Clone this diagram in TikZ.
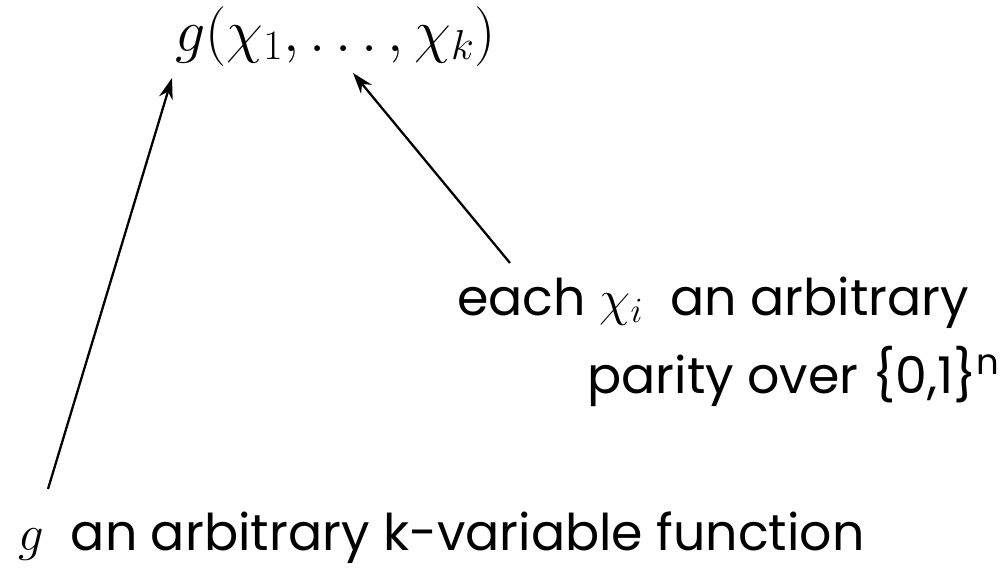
\RequirePackage{fix-cm}
\documentclass[tikz,border=0pt]{standalone}
\usepackage{amsmath, amssymb}
\usepackage{fontspec}
\setmainfont{Poppins}
\usepackage{tikz}
\usetikzlibrary{arrows.meta,positioning,calc}

\begin{document}
\begin{tikzpicture}[
    lbl/.style={inner sep=0pt, font=\fontsize{28.8}{34}\selectfont},
    formula/.style={inner sep=0pt, font=\fontsize{34}{40}\selectfont},
    arrow/.style={-{Stealth[length=12pt,width=8pt]}, line width=1.3pt}
]
\useasboundingbox (0,0) rectangle (20.16,-11.34);

\node[formula, anchor=base west] (gchi) at (3.5,-1.02) {$g(\chi_1,\ldots,\chi_k)$};

% labels
\node[lbl, anchor=base west] (each) at (9.14,-6.3) {each $\chi_i$\ \ an arbitrary};
\node[lbl, anchor=base west] (parity) at (11.74,-7.86) {parity over \{0,1\}\textsuperscript{n}};
\node[lbl, anchor=base west] (gfun) at (0.36,-11.0) {$g$\ \ an arbitrary k-variable function};

% arrow ends
\coordinate (gfoot) at (0.96,-9.78);
\coordinate (gtip) at (3.44,-1.56);
\coordinate (chifoot) at (10.2,-5.26);
\coordinate (chitip) at (7.06,-1.46);

\draw[arrow] (gfoot) -- (gtip);
\draw[arrow] (chifoot) -- (chitip);
\end{tikzpicture}
\end{document}
